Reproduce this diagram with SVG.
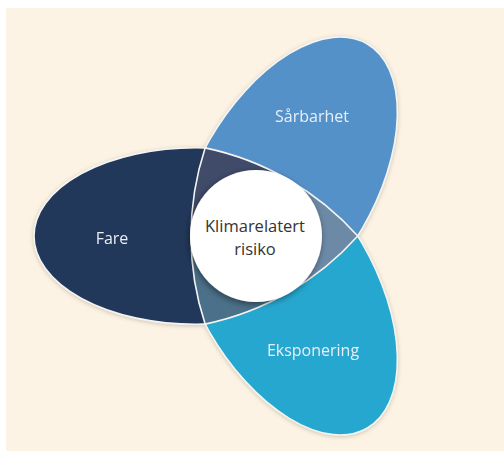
<svg xmlns="http://www.w3.org/2000/svg" width="504" height="451" viewBox="0 0 504 451">
  <defs>
    <style>
      .edge { stroke: #f4f4f2; stroke-width: 1.6; stroke-linejoin: round; }
      .lbl { font-family: "Open Sans", "Noto Sans", "Liberation Sans", sans-serif; font-size: 16px; text-anchor: middle; fill: #e9eef4; }
      .ctr { font-family: "Open Sans", "Noto Sans", "Liberation Sans", sans-serif; font-size: 16.5px; text-anchor: middle; fill: #333333; }
    </style>
    <clipPath id="out1" clipPathUnits="userSpaceOnUse">
      <path clip-rule="evenodd" d="M-1000,-1000 H1500 V1500 H-1000 Z M191,236 a282,282 0 1,0 564,0 a282,282 0 1,0 -564,0 Z"/>
    </clipPath>
    <clipPath id="out2" clipPathUnits="userSpaceOnUse">
      <path clip-rule="evenodd" d="M-1000,-1000 H1500 V1500 H-1000 Z M-134.5,423.93 a282,282 0 1,0 564,0 a282,282 0 1,0 -564,0 Z"/>
    </clipPath>
    <clipPath id="out3" clipPathUnits="userSpaceOnUse">
      <path clip-rule="evenodd" d="M-1000,-1000 H1500 V1500 H-1000 Z M-134.5,48.07 a282,282 0 1,0 564,0 a282,282 0 1,0 -564,0 Z"/>
    </clipPath>
    <filter id="soft" x="-10%" y="-10%" width="120%" height="120%">
      <feDropShadow dx="0" dy="1" stdDeviation="2.2" flood-color="#7a6a50" flood-opacity="0.35"/>
    </filter>
    <filter id="circShadow" x="-20%" y="-20%" width="140%" height="140%">
      <feDropShadow dx="-1" dy="2" stdDeviation="3" flood-color="#000000" flood-opacity="0.45"/>
    </filter>
  </defs>

  <rect x="0" y="0" width="504" height="451" fill="#ffffff"/>
  <rect x="6" y="8" width="498" height="443" fill="#fcf3e4"/>

  <g filter="url(#soft)">
    <g id="fare">
      <g clip-path="url(#out1)">
        <ellipse class="edge" fill="#22375a" cx="196" cy="236" rx="162" ry="88.3"/>
      </g>
      <text class="lbl" x="112" y="244">Fare</text>
    </g>
    <g id="sarbarhet">
      <g clip-path="url(#out2)">
        <ellipse class="edge" fill="#5591c9" cx="0" cy="0" rx="162" ry="88.3" transform="translate(286,184.04) rotate(-60)"/>
      </g>
      <text class="lbl" x="312" y="122">Sårbarhet</text>
    </g>
    <g id="eksponering">
      <g clip-path="url(#out3)">
        <ellipse class="edge" fill="#26a7cf" cx="0" cy="0" rx="162" ry="88.3" transform="translate(286,287.96) rotate(60)"/>
      </g>
      <text class="lbl" x="313" y="356">Eksponering</text>
    </g>
    <g id="overlaps">
      <path fill="#414b6b" d="M256,236 L191,236 A282,282 0 0,1 205.12,147.88 A282,282 0 0,1 288.5,179.71 Z"/>
      <path fill="#6c89a6" d="M256,236 L288.5,179.71 A282,282 0 0,1 357.75,236 A282,282 0 0,1 288.5,292.29 Z"/>
      <path fill="#4b7089" d="M256,236 L288.5,292.29 A282,282 0 0,1 205.12,324.12 A282,282 0 0,1 191,236 Z"/>
      <path class="edge" fill="none" d="M205.12,147.88 A282,282 0 0,1 357.75,236 A282,282 0 0,1 205.12,324.12 A282,282 0 0,1 205.12,147.88 Z"/>
    </g>
  </g>

  <g id="klimarelatert-risiko">
    <circle cx="256" cy="236" r="66" fill="#ffffff" filter="url(#circShadow)"/>
    <text class="ctr" x="255" y="232">Klimarelatert</text>
    <text class="ctr" x="255" y="255">risiko</text>
  </g>
</svg>
